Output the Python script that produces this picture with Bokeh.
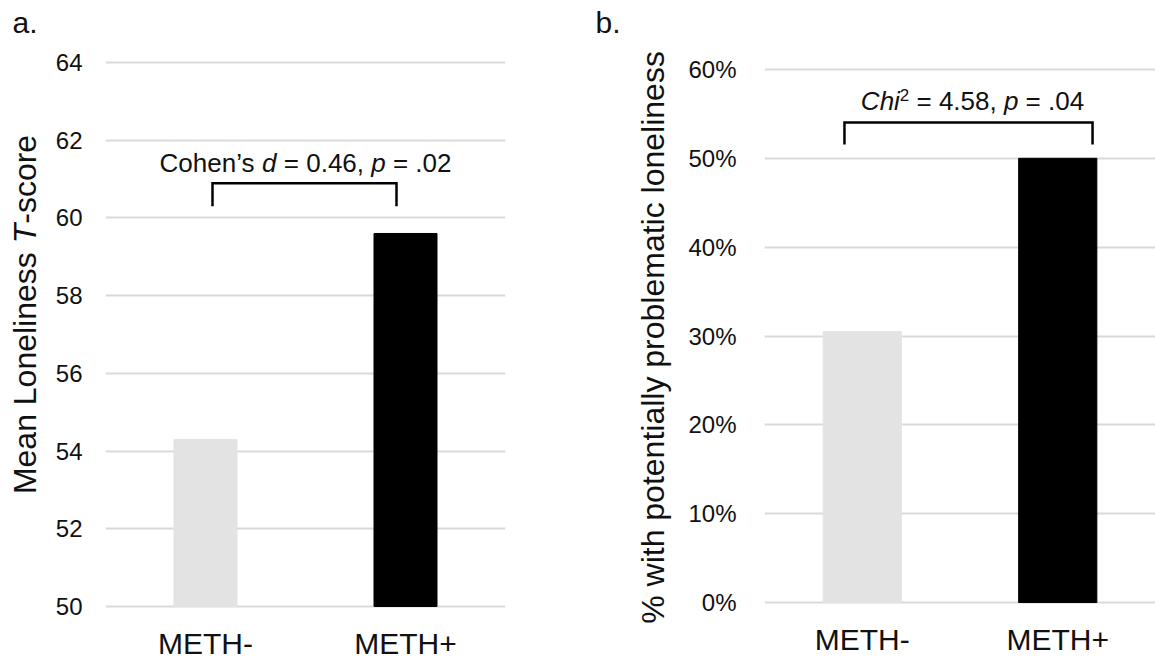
import math
from bokeh.plotting import figure
from bokeh.layouts import row
from bokeh.models import (FactorRange, Range1d, FixedTicker, NumeralTickFormatter,
                          ColumnDataSource)
from bokeh.core.properties import value
from bokeh.embed import file_html
from bokeh.resources import INLINE

# ---------------- data ----------------
groups = ["METH-", "METH+"]
tscore_means = [54.3, 59.6]          # panel a: mean loneliness T-score
pct_lonely = [0.305, 0.50]           # panel b: share with potentially problematic loneliness
bar_colors = ["#e3e3e3", "#000000"]
tscore_ticks = [50, 52, 54, 56, 58, 60, 62, 64]
pct_ticks = [0.0, 0.1, 0.2, 0.3, 0.4, 0.5, 0.6]

FONT = "Liberation Sans"
GRID = "#d9d9d9"
TXT = "#111111"
H = 660

# Arial / Liberation Sans advance widths (em)
AW = {" ": .278, "’": .222, ",": .278, "-": .333, ".": .278, "=": .584, "%": .889,
      "C": .722, "M": .833, "E": .667, "T": .611, "H": .722, "L": .556,
      "a": .556, "b": .556, "c": .5, "d": .556, "e": .556, "h": .556, "i": .222,
      "l": .222, "n": .556, "o": .556, "p": .556, "r": .333, "s": .5, "t": .278,
      "w": .722, "y": .5, "m": .833}


def tw(s, size):
    return sum(AW.get(ch, 0.556) for ch in s) * size


def layout_segments(segs, size):
    """segs: (text, style, scale, raise_px) -> rendered pieces with pixel offsets
    measured from the start of the whole string"""
    out, off = [], 0.0
    for t, st, sc, r in segs:
        fs = size * sc
        lead = len(t) - len(t.lstrip(" "))
        body = t.strip(" ")
        out.append((body, st, f"{fs:.1f}px", off + tw(" " * lead, fs), r))
        off += tw(t, fs)
    return out, off


def style_axes(p, tick_standoff):
    p.outline_line_color = None
    p.background_fill_color = "white"
    p.border_fill_color = "white"
    p.xgrid.visible = False
    p.xaxis.visible = False
    p.ygrid.grid_line_color = GRID
    p.ygrid.grid_line_width = 2
    ax = p.yaxis[0]
    ax.axis_line_color = None
    ax.major_tick_line_color = None
    ax.minor_tick_line_color = None
    ax.major_tick_out = 0
    ax.major_tick_in = 0
    ax.major_label_text_font = FONT
    ax.major_label_text_color = TXT
    ax.major_label_text_font_size = "24px"
    ax.major_label_standoff = tick_standoff


def category_labels(p, y):
    p.text(x=groups, y=[y] * len(groups), text=groups, text_font=value(FONT),
           text_font_size="30px", text_align="center", text_baseline="middle",
           text_color=TXT)


def rich_text(p, x, y, segs, size):
    pieces, total = layout_segments(segs, size)
    src = ColumnDataSource(dict(
        x=[x] * len(pieces), y=[y] * len(pieces),
        text=[pc[0] for pc in pieces],
        xo=[pc[3] - total / 2.0 for pc in pieces],
        yo=[-pc[4] for pc in pieces],
        st=[pc[1] for pc in pieces], sz=[pc[2] for pc in pieces]))
    p.text(x="x", y="y", text="text", x_offset="xo", y_offset="yo", source=src,
           text_font=value(FONT), text_font_style="st", text_font_size="sz",
           text_align="left", text_baseline="middle", text_color=TXT)


def label_panel(width):
    """narrow plot whose frame is the whole strip; coordinates equal screen pixels"""
    lp = figure(width=width, height=H, output_backend="svg", toolbar_location=None,
                x_axis_type=None, y_axis_type=None,
                x_range=Range1d(0, width), y_range=Range1d(H, 0),
                min_border_left=0, min_border_right=0, min_border_top=0,
                min_border_bottom=0)
    lp.outline_line_color = None
    lp.background_fill_color = "white"
    lp.border_fill_color = "white"
    return lp


def rotated_label(lp, xc, yc, segs, size):
    pieces, total = layout_segments(segs, size)
    start = yc + total / 2.0
    src = ColumnDataSource(dict(
        x=[xc] * len(pieces), y=[start - pc[3] for pc in pieces],
        text=[pc[0] for pc in pieces], st=[pc[1] for pc in pieces],
        sz=[pc[2] for pc in pieces]))
    lp.text(x="x", y="y", text="text", source=src, angle=math.pi / 2,
            text_font=value(FONT), text_font_style="st", text_font_size="sz",
            text_align="left", text_baseline="middle", text_color=TXT)


def panel_letter(lp, x, y, t):
    lp.text(x=[x], y=[y], text=[t], text_font=value(FONT), text_font_size="30px",
            text_align="left", text_baseline="middle", text_color=TXT)


# ---------------- left label strip ----------------
lab1 = label_panel(45)
rotated_label(lab1, 24, 314, [("Mean Loneliness ", "normal", 1, 0), ("T", "italic", 1, 0),
                              ("-score", "normal", 1, 0)], 32)
panel_letter(lab1, 12, 22, "a.")

# ---------------- panel a ----------------
a_px = 544 / 14.0                      # pixels per T-score unit (64 at y=62, 50 at y=606)
p1 = figure(width=535, height=H, output_backend="svg", toolbar_location=None,
            x_range=FactorRange(factors=groups, range_padding=0),
            y_range=Range1d(50 - 54 / a_px, 64 + 62 / a_px),
            min_border_left=60, min_border_right=75, min_border_top=0,
            min_border_bottom=0)
src1 = ColumnDataSource(dict(x=groups, top=tscore_means, color=bar_colors))
p1.vbar(x="x", top="top", bottom=50, width=0.315, color="color", source=src1)
style_axes(p1, 23)
p1.yaxis.ticker = FixedTicker(ticks=tscore_ticks)
category_labels(p1, 50 - (643 - 606) / a_px)

br1_x = [0.535, 0.535, 1.455, 1.455]
br1_y = [60.3, 60.89, 60.89, 60.3]
p1.line(br1_x, br1_y, line_color="black", line_width=2.5, line_join="miter")
rich_text(p1, 1.0, 64 - (162.5 - 62) / a_px,
          [("Cohen’s ", "normal", 1, 0), ("d", "italic", 1, 0),
           (" = 0.46, ", "normal", 1, 0), ("p", "italic", 1, 0),
           (" = .02", "normal", 1, 0)], 26)

# ---------------- right label strip ----------------
lab2 = label_panel(100)
rotated_label(lab2, 72, 337, [("% with potentially problematic loneliness", "normal", 1, 0)], 32)
panel_letter(lab2, 15, 22, "b.")

# ---------------- panel b ----------------
b_px = 533 / 0.6                       # pixels per unit share (60% at y=69, 0% at y=602)
p2 = figure(width=475, height=H, output_backend="svg", toolbar_location=None,
            x_range=FactorRange(factors=groups, range_padding=0),
            y_range=Range1d(-58 / b_px, 0.6 + 69 / b_px),
            min_border_left=84, min_border_right=0, min_border_top=0,
            min_border_bottom=0)
src2 = ColumnDataSource(dict(x=groups, top=pct_lonely, color=bar_colors))
p2.vbar(x="x", top="top", bottom=0, width=0.40, color="color", source=src2)
style_axes(p2, 28)
p2.yaxis.ticker = FixedTicker(ticks=pct_ticks)
p2.yaxis.formatter = NumeralTickFormatter(format="0%")
category_labels(p2, -(639 - 602) / b_px)

br2_x = [0.409, 0.409, 1.678, 1.678]
br2_y = [0.5156, 0.5403, 0.5403, 0.5156]
p2.line(br2_x, br2_y, line_color="black", line_width=2.5, line_join="miter")
rich_text(p2, 1.064, 0.6 - (100.5 - 69) / b_px,
          [("Chi", "italic", 1, 0), ("2", "normal", 0.65, 6),
           (" = 4.58, ", "normal", 1, 0), ("p", "italic", 1, 0),
           (" = .04", "normal", 1, 0)], 26)

layout = row(lab1, p1, lab2, p2)
open("out.html", "w").write(file_html(layout, INLINE))
